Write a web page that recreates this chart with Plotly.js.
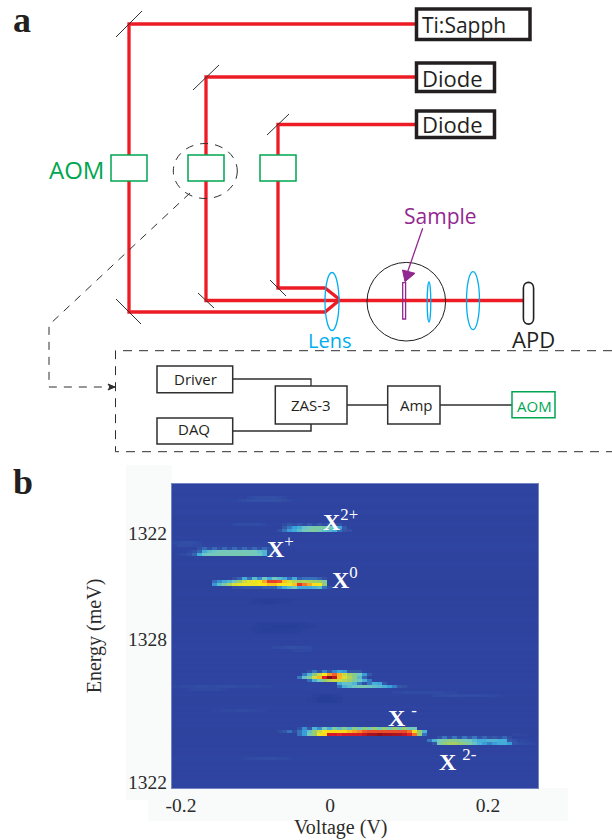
<!DOCTYPE html>
<html><head><meta charset="utf-8">
<script src="https://cdn.plot.ly/plotly-3.0.1.min.js"></script>
<style>html,body{margin:0;padding:0;background:#fff}</style></head>
<body><div id="plot" style="width:612px;height:840px"></div>
<script>
// ---- panel b: tick labels ----
const xTickVals = [-0.1886, 0, 0.2];
const xTickText = ['-0.2', '0', '0.2'];
const yTickVals = [1322, 1328, 1336.1];
const yTickText = ['1322', '1328', '1322'];
// ---- panel b: intensity map ----
const voltageStart = -0.2, voltageStep = 0.00633, energyStart = 1319.23, energyStep = 0.1698, nCols = 74;
const rowBackground = [
 .08,.085,.08,.075,.08,.085,.08,.075,.08,.085,.075,.07,.075,.08,.075,.07,.075,.08,.075,.08,
 .085,.08,.075,.075,.07,.075,.08,.075,.07,.075,.07,.07,.065,.065,.07,.07,.075,.07,.065,.07,
 .065,.07,.075,.07,.075,.08,.075,.07,.075,.07,.075,.08,.075,.08,.085,.08,.075,.08,.075,.08,
 .075,.08,.075,.08,.075,.08,.08,.085,.08,.075,.08,.075,.07,.075,.08,.075,.08,.075,.08,.075,
 .08,.075,.07,.07,.075,.075,.07,.075,.08,.075,.08,.085,.08,.075,.08,.075,.08,.075,.08,.085,.08,.08];
// each entry: row, first column, then intensities
const peakX2plus = [
 [13,22, .03,.07,.03,.07,.03,.08,.03,.08,.03,.08,.03,.05],
 [14,22, .08,.12,.17,.2,.27,.3,.32,.34,.33,.3,.27,.18,.08],
 [15,21, .06,.12,.17,.2,.25,.3,.32,.36,.3,.27,.24,.2,.12,.08,.05]];
const peakXplus = [
 [21,5, .05,.1,.04,.1,.04,.1,.05,.1,.05,.1,.05,.1,.05,.1,.05,.08],
 [22,3, .02,.05,.1,.2,.25,.28,.3,.3,.3,.3,.3,.3,.3,.3,.26,.22,.05],
 [23,1, .02,.03,.05,.1,.2,.28,.3,.3,.31,.31,.31,.31,.32,.32,.31,.3,.28,.22,.05,.02]];
const peakX0 = [
 [31,12, .05,.1,.2,.12,.25,.15,.3,.2,.3,.25,.2,.12,.2,.1,.12,.12,.12,.1,.05],
 [32,8, .12,.16,.2,.24,.3,.42,.52,.58,.6,.62,.68,.78,.78,.76,.66,.55,.48,.45,.48,.46,.44,.42,.36],
 [33,8, .17,.26,.34,.46,.55,.58,.6,.6,.6,.62,.64,.66,.66,.64,.62,.62,.66,.8,.72,.68,.64,.62,.4],
 [34,12, .05,.06,.08,.08,.08,.08,.1,.1,.1,.15,.2,.25,.3,.2,.2,.2,.22,.25,.12,.06]];
const peak4 = [
 [62,27, .05,.12,.05,.14,.08,.14,.18,.16,.08,.08,.08],
 [63,26, .12,.22,.38,.5,.62,.68,.72,.66,.5,.42,.36,.28,.16,.08],
 [64,25, .12,.26,.36,.52,.66,.82,.92,.86,.66,.54,.46,.38,.24,.1],
 [65,27, .1,.2,.3,.4,.46,.5,.5,.46,.42,.34,.28,.2,.12],
 [66,33, .2,.26,.26,.22,.12,.05,.12,.2,.18,.08],
 [67,33, .1,.2,.24,.27,.3,.3,.27,.25,.23,.2,.16,.12,.06,.04]];
const peakXminus = [
 [81,25, .05,.15,.08,.22,.15,.3,.2,.35,.25,.38,.25,.4,.28,.4,.3,.42,.3,.42,.3,.42,.32,.42,.3,.3],
 [82,21, .04,.08,.12,.05,.12,.17,.27,.42,.52,.62,.64,.64,.64,.64,.66,.68,.7,.74,.76,.76,.76,.76,.76,.76,.76,.76,.72,.64,.42,.22],
 [83,25, .12,.17,.32,.42,.6,.64,.84,.84,.82,.84,.84,.84,.84,.86,.89,.89,.91,.89,.89,.88,.88,.86,.82,.72,.4,.12]];
const peakX2minus = [
 [84,53, .05,.12,.06,.12,.06,.12,.08,.12,.06,.1,.05,.08,.04,.1,.04],
 [85,51, .12,.22,.3,.34,.37,.37,.34,.3,.28,.24,.2,.2,.22,.22,.2,.2,.08,.04],
 [86,52, .07,.32,.4,.44,.44,.42,.37,.34,.27,.22,.17,.14,.17,.2,.2,.17,.07,.05,.04,.03,.02]];
// faint streaks and darker zones in the background
const faintPatches = [
 [4,15, .02,.03,.04,.04,.04,.04,.03,.02],
 [5,13, .02,.03,.04,.04,.05,.05,.05,.05,.04,.03,.02],
 [13,12, .02,.03,.03,.03,.03,.03,.02],
 [19,0, .02,.03,.04,.04,.03,.02],
 [20,1, .03,.03,.03,.02,.02],
 [54,20, .02,.02,.03,.04,.04,.03,.03,.02],
 [55,24, .02,.02,.02,.02],
 [67,0, .01,.01,.02,.02,.02,.03,.03,.02,.02,.03,.03,.03,.03,.02,.02,.02,.02,.02,.01,.01],
 [68,3, .01,.02,.02,.02,.02,.02,.02,.01],
 [69,44, .02,.02,.03,.03,.03,.03,.03,.03,.03,.03,.02,.02,.02],
 [70,52, .02,.03,.03,.03,.04,.03,.03,.03,.03,.03,.02,.02,.02,.01],
 [75,8, .01,.01,.02,.02,.02,.03,.03,.02,.02,.01,.01],
 [91,14, .01,.02,.02,.03,.03,.03,.03,.02,.02,.01],
 [83,68, .02,.02,.02,.01],
 [85,68, .02,.02,.02,.01],
 [38,16, -.01,-.02,-.02,-.02,-.02,-.02,-.02,-.01,-.01],
 [39,15, -.01,-.02,-.02,-.03,-.03,-.03,-.02,-.02,-.01],
 [46,16, -.01,-.02,-.02,-.02,-.02,-.02,-.02,-.02,-.02,-.02,-.02,-.01,-.01],
 [47,16, -.01,-.02,-.02,-.02,-.03,-.03,-.03,-.03,-.03,-.02,-.02,-.02,-.01],
 [48,15, -.01,-.02,-.02,-.03,-.03,-.03,-.03,-.03,-.03,-.02,-.02,-.01],
 [49,16, -.01,-.02,-.02,-.02,-.02,-.02,-.02,-.02,-.02,-.01],
 [70,27, -.01,-.02,-.03,-.04,-.04,-.03,-.02,-.01],
 [71,27, -.01,-.02,-.04,-.04,-.04,-.03,-.02,-.01],
 [72,27, -.01,-.02,-.03,-.04,-.04,-.03,-.02]];
const colorStops = [[0,'#223a92'],[.08,'#2e44a0'],[.16,'#3559aa'],[.25,'#38a5df'],[.36,'#6fc8c4'],[.48,'#93cc74'],[.6,'#d3dc3c'],[.7,'#fbe718'],[.8,'#f2602b'],[.9,'#dc1c2a'],[1,'#7d0c18']];
// ---- panel a: optical layout (page pixels) ----
const beamTi = [[415,129,129,325,339],[24,24,312,312,300.5]];
const beamDiode1 = [[415,206,206,523],[77,77,300.5,300.5]];
const beamDiode2 = [[415,278,278,325,339],[124.5,124.5,288,288,299]];
const mirrors = [[116,37,142,11],[116,299,141,324],[193,90,219,65],[198,293,214,308],[267,135,289,114],[270,280,286,296]];
const aomBoxes = [[111,155,147,181],[188,155,224,181],[260,155,296,181]];
const laserBoxes = [[416.5,9,530,39.5],[416.5,63,494.5,91.5],[416.5,111,494.5,137.5]];
const electronicsBoxes = [[157,366,232.7,392.7],[157,418,232.7,444],[275.3,386,347,424],[387.7,386,440,424]];
const lenses = [[332,301.5,7,29],[473,300.7,6.5,29],[429,302,1.8,20]];
const diagramTexts = [
 ['Ti:Sapph',420,25,21,'#231f20','left'],['Diode',420,78,22,'#231f20','left'],['Diode',420,124,22,'#231f20','left'],
 ['AOM',76,169,24,'#00a651','center'],['Sample',440,216,21,'#92278f','center'],['Lens',329.5,340,20,'#00aeef','center'],
 ['APD',533,339,22,'#231f20','center'],['Driver',195,379,15,'#231f20','center'],['DAQ',194,429,15,'#231f20','center'],
 ['ZAS-3',311,405,15,'#231f20','center'],['Amp',416,405,15,'#231f20','center'],['AOM',534,406,15,'#00a651','center']];
const stateLabels = [['2+',321,520,''],['+',265,547,''],['0',330,578,''],['-',386,716,' '],['2-',437,760,' ']];

const z = rowBackground.map(v => new Array(nCols).fill(v));
[peakX2plus, peakXplus, peakX0, peak4, peakXminus, peakX2minus, faintPatches].forEach(group =>
  group.forEach(([r, c0, ...vals]) => vals.forEach((v, i) => { if (c0 + i < nCols) z[r][c0 + i] += v; })));

const beam = b => ({x:b[0], y:b[1], xaxis:'x2', yaxis:'y2', type:'scatter', mode:'lines',
  line:{color:'#ed1c24', width:3.3}, hoverinfo:'skip', showlegend:false});
const ref = {xref:'x2', yref:'y2', layer:'above'};
const seg = (x0,y0,x1,y1,color,width,dash) => Object.assign({type:'line',x0,y0,x1,y1,line:{color,width,dash:dash||'solid'}}, ref);
const box = (b,color,width,fill) => Object.assign({type:'rect',x0:b[0],y0:b[1],x1:b[2],y1:b[3],line:{color,width},fillcolor:fill||'rgba(0,0,0,0)'}, ref);
const ell = (cx,cy,rx,ry,color,width,dash) => Object.assign({type:'circle',x0:cx-rx,y0:cy-ry,x1:cx+rx,y1:cy+ry,line:{color,width,dash:dash||'solid'}}, ref);
const pth = (path,color,width,fill,dash) => Object.assign({type:'path',path,line:{color,width,dash:dash||'solid'},fillcolor:fill||'rgba(0,0,0,0)'}, ref);
const backdrop = (x0,y0,x1,y1) => ({type:'rect',xref:'paper',yref:'paper',layer:'below',x0:x0/612,x1:x1/612,y0:1-y0/840,y1:1-y1/840,line:{width:0},fillcolor:'#f9fbfa'});
const dk = '#2f2f31';
const shapes = [
  backdrop(126,465,172,800),
  backdrop(148,788,568,821),
  ...mirrors.map(m => seg(m[0],m[1],m[2],m[3],dk,1)),
  ...aomBoxes.map(b => box(b,'#00a651',1.5,'#ffffff')),
  ...laserBoxes.map(b => box(b,'#231f20',3.5,'#ffffff')),
  ell(205.3,171,32,27.5,dk,1,'8px,7px'),
  pth('M190,193 L49,325 L49,387 L115,387',dk,1,null,'8px,7px'),
  pth('M108,384 L115,387 L108,390 L110,387 Z',dk,1,dk),
  pth('M612,350.7 L115.5,350.7 L115.5,451.7 L612,451.7',dk,1,null,'9px,7px'),
  ...lenses.map(l => ell(l[0],l[1],l[2],l[3],'#00aeef',1.3)),
  ell(406.3,301.7,39.3,39.3,'#231f20',1),
  box([402.7,282.7,405.6,319],'#92278f',1.3),
  seg(422.7,228.3,406.5,275,'#92278f',1.3),
  pth('M405,281.7 L402.5,270 L415,273.3 Z','#92278f',1,'#92278f'),
  pth('M523.4,288 C523.4,280.5 533.6,280.5 533.6,288 L533.6,318.5 C533.6,326 523.4,326 523.4,318.5 Z','#231f20',1.6,'#ffffff'),
  pth('M232.7,379 L311,379 L311,386',dk,1.3),
  pth('M232.7,431 L311,431 L311,424',dk,1.5),
  seg(347,405,388,405,dk,1.3),
  seg(440,405,512,405,dk,1.3),
  ...electronicsBoxes.map(b => box(b,dk,1.5)),
  box([512,391.7,555,417.7],'#00a651',1.5)
];
const tickFont = {family:'"Liberation Serif",serif',size:19.5,color:'#2b2b2b'};
const annotations = [
  ...diagramTexts.map(t => ({xref:'x2',yref:'y2',x:t[1],y:t[2],text:t[0],showarrow:false,xanchor:t[5],yanchor:'middle',
     font:{family:'"Open Sans",sans-serif',size:t[3],color:t[4]}})),
  {xref:'x2',yref:'y2',x:22,y:20,text:'<b>a</b>',showarrow:false,font:{family:'"Liberation Serif",serif',size:36,color:'#231f20'}},
  {xref:'x2',yref:'y2',x:23,y:482,text:'<b>b</b>',showarrow:false,font:{family:'"Liberation Serif",serif',size:36,color:'#231f20'}},
  {xref:'x2',yref:'y2',x:341,y:827,text:'Voltage (V)',showarrow:false,font:Object.assign({},tickFont,{size:20})},
  ...stateLabels.map(t => ({xref:'x2',yref:'y2',x:t[1],y:t[2],text:'<b>X</b>'+t[3]+'<sup>'+t[0]+'</sup>',showarrow:false,xanchor:'left',yanchor:'middle',
     font:{family:'"Liberation Serif",serif',size:24,color:'#ffffff'}}))
];
const data = [
  {type:'heatmap', z, x0:voltageStart+voltageStep/2, dx:voltageStep, y0:energyStart+energyStep/2, dy:energyStep,
   zmin:0, zmax:1, zsmooth:false, colorscale:colorStops, showscale:false, hoverinfo:'skip'},
  beam(beamTi), beam(beamDiode1), beam(beamDiode2)
];
const layout = {
  width:612, height:840, margin:{l:0,r:0,t:0,b:0}, paper_bgcolor:'#ffffff', plot_bgcolor:'rgba(0,0,0,0)', showlegend:false,
  xaxis:{domain:[172/612,538/612], range:[voltageStart,0.2633], tickmode:'array', tickvals:xTickVals, ticktext:xTickText, ticks:'', showgrid:false, zeroline:false,
    showline:true, mirror:true, linecolor:'#7485c4', linewidth:1, tickfont:tickFont, automargin:false},
  yaxis:{domain:[1-788/840,1-484/840], range:[1336.43,1319.23], tickmode:'array', tickvals:yTickVals, ticktext:yTickText, ticks:'', showgrid:false, zeroline:false,
    showline:true, mirror:true, linecolor:'#7485c4', linewidth:1, tickfont:tickFont, automargin:false,
    title:{text:'Energy (meV)', font:Object.assign({},tickFont,{size:20}), standoff:21}},
  xaxis2:{domain:[0,1], range:[0,612], anchor:'y2', visible:false, fixedrange:true},
  yaxis2:{domain:[0,1], range:[840,0], anchor:'x2', visible:false, fixedrange:true},
  shapes, annotations
};
Plotly.newPlot('plot', data, layout, {staticPlot:true, displayModeBar:false});
</script></body></html>
